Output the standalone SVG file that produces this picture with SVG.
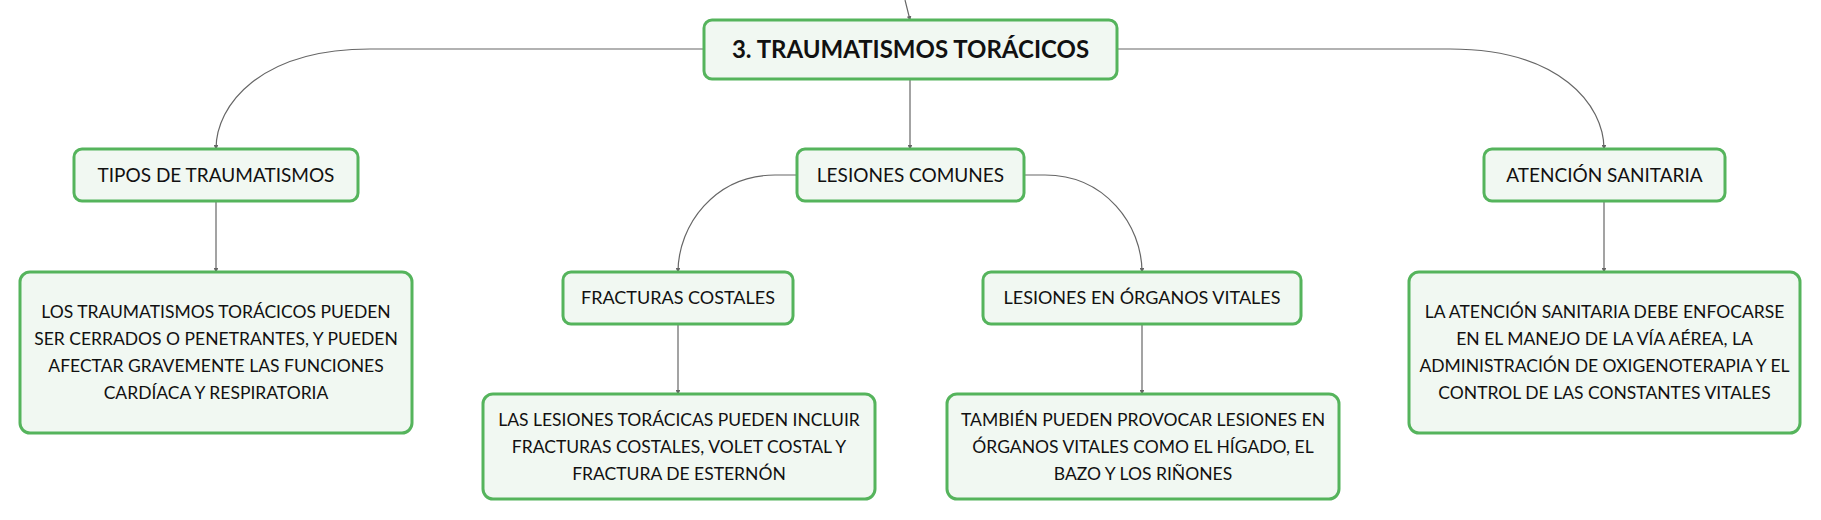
<svg xmlns="http://www.w3.org/2000/svg" width="1821" height="520" viewBox="0 0 1821 520">
<defs>
<style>
.box{fill:#f1f8f2;stroke:#55b45c;stroke-width:3}
.t{font-family:Lato,"Noto Sans",sans-serif;font-size:17.5px;fill:#111;text-anchor:middle}
.h{font-size:19px}
.s{font-size:18px}
.c{font-family:Lato,"Noto Sans",sans-serif;font-size:24px;font-weight:bold;fill:#111;text-anchor:middle}
.ln{fill:none;stroke:#666;stroke-width:1.2}
</style>
<marker id="ar" viewBox="0 0 6 6" refX="5" refY="3" markerWidth="4" markerHeight="4" orient="auto"><path d="M0,0 L6,3 L0,6 z" fill="#666"/></marker>
</defs>
<rect width="1821" height="520" fill="#fff"/>
<g id="connectors">
<path class="ln" d="M905,0 L910,20" marker-end="url(#ar)"/>
<path class="ln" d="M704,49 L370,49 C260,49 216,105 216,149" marker-end="url(#ar)"/>
<path class="ln" d="M1117,49 L1450,49 C1560,49 1604,105 1604,149" marker-end="url(#ar)"/>
<path class="ln" d="M910,79 L910,149" marker-end="url(#ar)"/>
<path class="ln" d="M797,175 L775,175 C715,175 678,225 678,272" marker-end="url(#ar)"/>
<path class="ln" d="M1024,175 L1045,175 C1105,175 1142,225 1142,272" marker-end="url(#ar)"/>
<path class="ln" d="M216,201 L216,272" marker-end="url(#ar)"/>
<path class="ln" d="M678,324 L678,394" marker-end="url(#ar)"/>
<path class="ln" d="M1142,324 L1142,394" marker-end="url(#ar)"/>
<path class="ln" d="M1604,201 L1604,272" marker-end="url(#ar)"/>
</g>
<g id="n-central">
<rect class="box" x="704" y="20" width="413" height="59" rx="8"/>
<text class="c" x="910.5" y="58">3. TRAUMATISMOS TORÁCICOS</text>
</g>
<g id="n-tipos">
<rect class="box" x="74" y="149" width="284" height="52" rx="8"/>
<text class="t h" x="216" y="182">TIPOS DE TRAUMATISMOS</text>
</g>
<g id="n-lesiones">
<rect class="box" x="797" y="149" width="227" height="52" rx="8"/>
<text class="t h" x="910.5" y="182">LESIONES COMUNES</text>
</g>
<g id="n-atencion">
<rect class="box" x="1484" y="149" width="241" height="52" rx="8"/>
<text class="t h" x="1604.5" y="182">ATENCIÓN SANITARIA</text>
</g>
<g id="n-tipos-d">
<rect class="box" x="20" y="272" width="392" height="161" rx="10"/>
<text class="t" x="216" y="318">LOS TRAUMATISMOS TORÁCICOS PUEDEN</text>
<text class="t" x="216" y="345">SER CERRADOS O PENETRANTES, Y PUEDEN</text>
<text class="t" x="216" y="372">AFECTAR GRAVEMENTE LAS FUNCIONES</text>
<text class="t" x="216" y="399">CARDÍACA Y RESPIRATORIA</text>
</g>
<g id="n-fracturas">
<rect class="box" x="563" y="272" width="230" height="52" rx="8"/>
<text class="t s" x="678" y="304">FRACTURAS COSTALES</text>
</g>
<g id="n-organos">
<rect class="box" x="983" y="272" width="318" height="52" rx="8"/>
<text class="t s" x="1142" y="304">LESIONES EN ÓRGANOS VITALES</text>
</g>
<g id="n-fracturas-d">
<rect class="box" x="483" y="394" width="392" height="105" rx="10"/>
<text class="t" x="679" y="426">LAS LESIONES TORÁCICAS PUEDEN INCLUIR</text>
<text class="t" x="679" y="453">FRACTURAS COSTALES, VOLET COSTAL Y</text>
<text class="t" x="679" y="480">FRACTURA DE ESTERNÓN</text>
</g>
<g id="n-organos-d">
<rect class="box" x="947" y="394" width="392" height="105" rx="10"/>
<text class="t" x="1143" y="426">TAMBIÉN PUEDEN PROVOCAR LESIONES EN</text>
<text class="t" x="1143" y="453">ÓRGANOS VITALES COMO EL HÍGADO, EL</text>
<text class="t" x="1143" y="480">BAZO Y LOS RIÑONES</text>
</g>
<g id="n-atencion-d">
<rect class="box" x="1409" y="272" width="391" height="161" rx="10"/>
<text class="t" x="1604.5" y="318">LA ATENCIÓN SANITARIA DEBE ENFOCARSE</text>
<text class="t" x="1604.5" y="345">EN EL MANEJO DE LA VÍA AÉREA, LA</text>
<text class="t" x="1604.5" y="372">ADMINISTRACIÓN DE OXIGENOTERAPIA Y EL</text>
<text class="t" x="1604.5" y="399">CONTROL DE LAS CONSTANTES VITALES</text>
</g>
</svg>
